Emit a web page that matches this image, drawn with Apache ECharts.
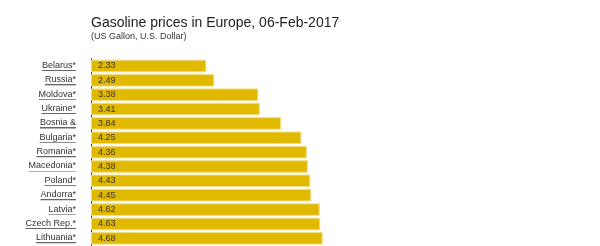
<!DOCTYPE html>
<html>
<head>
<meta charset="utf-8">
<script src="https://cdn.jsdelivr.net/npm/echarts@6/dist/echarts.min.js"></script>
<style>html,body{margin:0;padding:0;background:#fff}#c{width:600px;height:246px}</style>
</head>
<body>
<div id="c"></div>
<script>
var titleText = 'Gasoline prices in Europe, 06-Feb-2017';
var subtitleText = '(US Gallon, U.S. Dollar)';
var categories = ['Belarus*','Russia*','Moldova*','Ukraine*','Bosnia &','Bulgaria*','Romania*','Macedonia*','Poland*','Andorra*','Latvia*','Czech Rep.*','Lithuania*'];
var prices = [2.33, 2.49, 3.38, 3.41, 3.84, 4.25, 4.36, 4.38, 4.43, 4.45, 4.62, 4.63, 4.68];

var chart = echarts.init(document.getElementById('c'), null, {renderer: 'canvas'});
var underline = new echarts.graphic.LinearGradient(0, 0, 0, 1, [
  {offset: 0, color: 'rgba(0,0,0,0)'},
  {offset: 0.9, color: 'rgba(0,0,0,0)'},
  {offset: 0.9, color: '#666'},
  {offset: 1, color: '#666'}
]);
chart.setOption({
  animation: false,
  backgroundColor: '#ffffff',
  title: [{
    text: titleText,
    left: 86, top: 11,
    textStyle: {fontFamily: 'Liberation Sans, Arial, sans-serif', fontSize: 14, fontWeight: 'normal', color: '#222'}
  }, {
    text: subtitleText,
    left: 86, top: 27,
    textStyle: {fontFamily: 'Liberation Sans, Arial, sans-serif', fontSize: 9, fontWeight: 'normal', color: '#333'}
  }],
  grid: {left: 91, top: 58.8, height: 186.7, right: 14, containLabel: false},
  xAxis: {
    type: 'value', min: 0, max: 10, show: false
  },
  yAxis: {
    type: 'category', data: categories, inverse: true,
    axisLine: {show: true, lineStyle: {color: '#333', width: 1}},
    axisTick: {show: false},
    axisLabel: {
      interval: 0,
      margin: 15,
      formatter: function (v) { return '{u|' + v + '}'; },
      rich: {
        u: {
          fontFamily: 'Liberation Sans, Arial, sans-serif', fontSize: 9, color: '#333',
          backgroundColor: underline, padding: [0, 0, 1, 0], lineHeight: 11
        }
      }
    }
  },
  series: [{
    type: 'bar', data: prices, barWidth: 12.5,
    itemStyle: {color: '#E1BA00', borderColor: '#F1DC85', borderWidth: 1},
    label: {
      show: true, position: 'insideLeft', offset: [2, 0],
      fontFamily: 'Liberation Sans, Arial, sans-serif', fontSize: 9, color: '#333',
      formatter: function (p) { return p.value.toFixed(2); }
    }
  }]
});
</script>
</body>
</html>
